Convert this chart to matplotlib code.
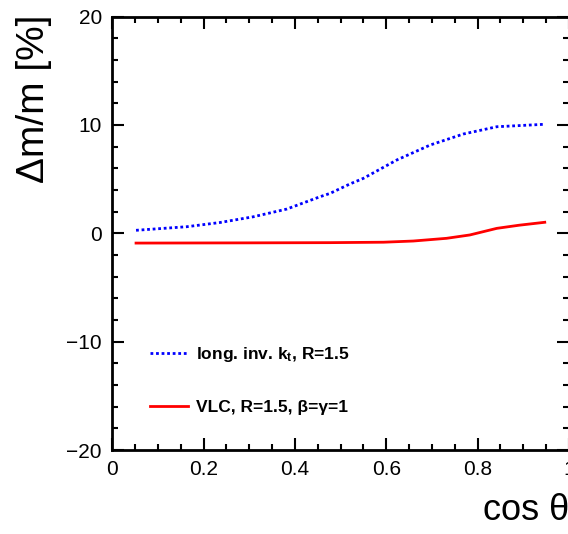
import matplotlib
matplotlib.use("Agg")
import matplotlib.pyplot as plt
from matplotlib.ticker import MultipleLocator

plt.rcParams['font.family'] = ['Liberation Sans', 'DejaVu Sans']
plt.rcParams['mathtext.fontset'] = 'custom'
plt.rcParams['mathtext.rm'] = 'Liberation Sans:bold'
plt.rcParams['mathtext.it'] = 'Liberation Sans:bold'
plt.rcParams['mathtext.bf'] = 'Liberation Sans:bold'

# data
kt_x = [0.052, 0.163, 0.236, 0.309, 0.382, 0.455, 0.477, 0.520, 0.550, 0.623, 0.696, 0.769, 0.842, 0.944]
kt_y = [0.28, 0.61, 1.0, 1.53, 2.24, 3.38, 3.69, 4.55, 5.08, 6.77, 8.15, 9.17, 9.84, 10.06]
vlc_x = [0.052, 0.298, 0.477, 0.594, 0.659, 0.732, 0.783, 0.842, 0.891, 0.947]
vlc_y = [-0.9, -0.88, -0.86, -0.82, -0.71, -0.46, -0.15, 0.46, 0.75, 1.02]
kt_label = r"long. inv. k$_\mathregular{t}$, R=1.5"
vlc_label = "VLC, R=1.5, β=γ=1"
xticks = [0, 0.2, 0.4, 0.6, 0.8, 1]
xticklabels = ["0", "0.2", "0.4", "0.6", "0.8", "1"]
yticks = [-20, -10, 0, 10, 20]
yticklabels = ["\u221220", "\u221210", "0", "10", "20"]

fig = plt.figure(figsize=(5.68, 5.34), dpi=100)
ax = fig.add_axes([0.1977, 0.1573, 0.804, 0.8115])

ax.plot(kt_x, kt_y, color='#0000ff', lw=2.0, linestyle=(0, (1, 1)), label=kt_label)
ax.plot(vlc_x, vlc_y, color='#ff0000', lw=2.0, label=vlc_label)

ax.set_xlim(0, 1)
ax.set_ylim(-20, 20)
ax.set_xticks(xticks)
ax.set_xticklabels(xticklabels)
ax.set_yticks(yticks)
ax.set_yticklabels(yticklabels)
ax.xaxis.set_minor_locator(MultipleLocator(0.05))
ax.yaxis.set_minor_locator(MultipleLocator(2))
ax.tick_params(which='both', direction='in', top=True, right=True, width=1.5, labelsize=15, pad=7.5)
ax.tick_params(which='major', length=8.5)
ax.tick_params(which='minor', length=4.3)
for s in ax.spines.values():
    s.set_linewidth(2)

ax.set_ylabel("Δm/m [%]", fontsize=28, loc='top')
ax.yaxis.set_label_coords(-0.131, 1.005)
ax.set_xlabel("cos θ", fontsize=26, loc='right')
ax.xaxis.set_label_coords(1.0, -0.1)

leg = ax.legend(loc='lower left', bbox_to_anchor=(0.049, 0.044), frameon=False,
                prop={'weight': 'bold', 'size': 12.5}, handlelength=2.2,
                handletextpad=0.45, labelspacing=2.1)

fig.savefig("out.png", dpi=100)
